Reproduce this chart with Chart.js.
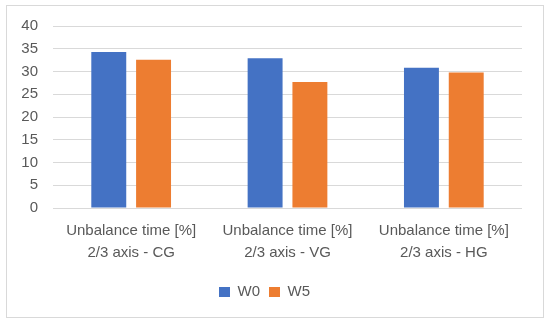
<!DOCTYPE html>
<html>
<head>
<meta charset="utf-8">
<script src="https://cdn.jsdelivr.net/npm/chart.js@4"></script>
<style>
  html, body { margin: 0; padding: 0; background: #fff; }
  .frame {
    position: absolute; left: 6px; top: 5px;
    width: 536px; height: 311px;
    border: 1px solid #d9d9d9;
  }
  canvas { display: block; }
</style>
</head>
<body>
<div class="frame">
  <canvas id="chart" width="536" height="311"></canvas>
</div>
<script>
const categories = [
  ["Unbalance time [%]", "2/3 axis - CG"],
  ["Unbalance time [%]", "2/3 axis - VG"],
  ["Unbalance time [%]", "2/3 axis - HG"]
];
const w0Values = [34.3, 32.9, 30.8];
const w5Values = [32.6, 27.7, 29.8];
const yTicks = [0, 5, 10, 15, 20, 25, 30, 35, 40];

const textColor = "#595959";
const fontFamily = "'Liberation Sans', Arial, sans-serif";

const ctx = document.getElementById("chart").getContext("2d");
new Chart(ctx, {
  type: "bar",
  data: {
    labels: categories,
    datasets: [
      { label: "W0", data: w0Values, backgroundColor: "#4472C4" },
      { label: "W5", data: w5Values, backgroundColor: "#ED7D31" }
    ]
  },
  options: {
    responsive: false,
    animation: false,
    layout: { padding: { top: 20, right: 21, bottom: 7.5, left: 0 } },
    datasets: { bar: { categoryPercentage: 0.573, barPercentage: 0.78 } },
    plugins: {
      tooltip: { enabled: false },
      legend: {
        position: "bottom",
        labels: {
          boxWidth: 11, boxHeight: 10, padding: 9,
          color: textColor,
          font: { family: fontFamily, size: 15 }
        }
      }
    },
    scales: {
      x: {
        grid: { display: false, drawTicks: false },
        border: { display: false },
        ticks: {
          color: textColor, padding: 12, maxRotation: 0,
          font: { family: fontFamily, size: 15, lineHeight: 1.47 }
        },
        afterFit: (scale) => { scale.height = 67.5; }
      },
      y: {
        min: 0, max: 40,
        afterBuildTicks: (scale) => { scale.ticks = yTicks.map(v => ({ value: v })); },
        grid: { color: "#d9d9d9", drawTicks: false },
        border: { display: false },
        ticks: {
          color: textColor, padding: 15,
          font: { family: fontFamily, size: 15 }
        },
        afterFit: (scale) => {
          scale.width = 46;
          scale.paddingTop = 0;
          scale.paddingBottom = 0;
        }
      }
    }
  }
});
</script>
</body>
</html>
